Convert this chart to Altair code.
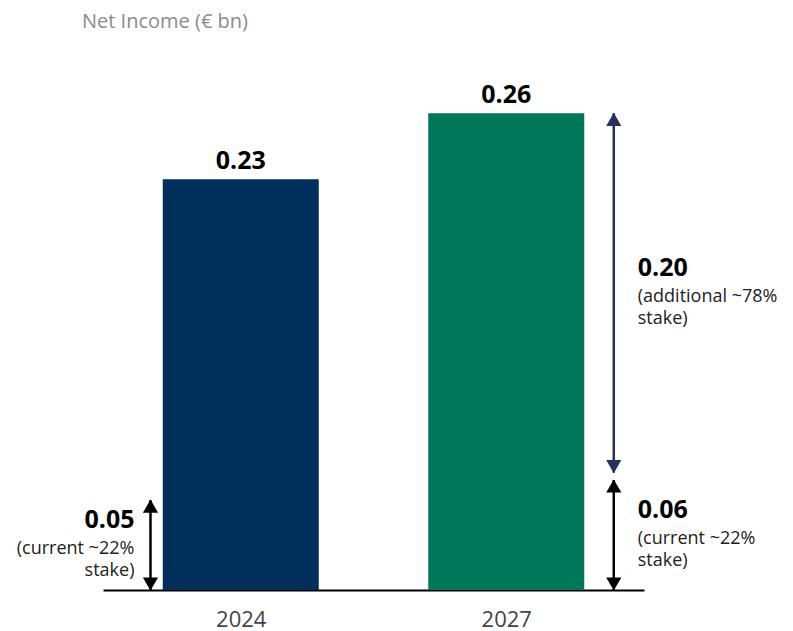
import altair as alt
import pandas as pd

# ---- data ----
years = ["2024", "2027"]
bar_pos = [0, 1]
bar_values = [0.224, 0.26]
bar_labels = ["0.23", "0.26"]
bar_colors = ["#002f5c", "#00765a"]

arrow_x = [-0.34, 1.405, 1.405]
arrow_low = [0.0, 0.0, 0.064]
arrow_high = [0.049, 0.06, 0.26]
arrow_colors = ["#000000", "#000000", "#27325a"]

ann_values = ["0.05", "0.06", "0.20"]
ann_desc = ["(current ~22%\nstake)", "(current ~22%\nstake)", "(additional ~78%\nstake)"]
ann_side = ["left", "right", "right"]

title_text = ["Net Income (€ bn)"]

FONT = "Open Sans"

bars_df = pd.DataFrame({"pos": bar_pos, "year": years, "value": bar_values,
                        "label": bar_labels, "color": bar_colors})
arr_df = pd.DataFrame({"x": arrow_x, "lo": arrow_low, "hi": arrow_high, "color": arrow_colors,
                       "mid": [(a + b) / 2 for a, b in zip(arrow_low, arrow_high)],
                       "val": ann_values, "desc": ann_desc, "side": ann_side})

label_expr = " : ".join(f"datum.value == {p} ? '{y}'" for p, y in zip(bar_pos, years)) + " : ''"

XMIN, XMAX = -0.5, 1.5
YMAX = 0.3
xscale = alt.Scale(domain=[XMIN, XMAX], nice=False, zero=False)
yscale = alt.Scale(domain=[0, YMAX], nice=False)

base_x = alt.X("pos:Q", scale=xscale,
               axis=alt.Axis(values=bar_pos, labelExpr=label_expr, title=None, grid=False,
                             ticks=False, domainColor="#000000", domainWidth=2,
                             labelFontSize=22, labelColor="#444444", labelFont=FONT,
                             labelPadding=19))

bars = alt.Chart(bars_df).mark_bar(size=156).encode(
    x=base_x,
    y=alt.Y("value:Q", scale=yscale, axis=None),
    color=alt.Color("color:N", scale=None),
)

bar_text = alt.Chart(bars_df).mark_text(font=FONT, fontSize=25, fontWeight="bold",
                                        color="#000000", baseline="bottom", dy=-5).encode(
    x=alt.X("pos:Q", scale=xscale),
    y=alt.Y("value:Q", scale=yscale),
    text="label:N",
)

rules = alt.Chart(arr_df).mark_rule(strokeWidth=2.5).encode(
    x=alt.X("x:Q", scale=xscale),
    y=alt.Y("lo:Q", scale=yscale),
    y2="hi:Q",
    color=alt.Color("color:N", scale=None),
)

heads_up = alt.Chart(arr_df).mark_point(shape="triangle-up", filled=True, size=230,
                                        opacity=1, yOffset=6).encode(
    x=alt.X("x:Q", scale=xscale),
    y=alt.Y("hi:Q", scale=yscale),
    color=alt.Color("color:N", scale=None),
)

heads_down = alt.Chart(arr_df).mark_point(shape="triangle-down", filled=True, size=230,
                                          opacity=1, yOffset=-6).encode(
    x=alt.X("x:Q", scale=xscale),
    y=alt.Y("lo:Q", scale=yscale),
    color=alt.Color("color:N", scale=None),
)

left_df = arr_df[arr_df.side == "left"]
right_df = arr_df[arr_df.side == "right"]

def ann(df, align, dx):
    v = alt.Chart(df).mark_text(font=FONT, fontSize=25, fontWeight="bold", color="#000000",
                                align=align, baseline="middle", dx=dx, dy=-25).encode(
        x=alt.X("x:Q", scale=xscale), y=alt.Y("mid:Q", scale=yscale), text="val:N")
    d = alt.Chart(df).mark_text(font=FONT, fontSize=18, color="#222222", align=align,
                                baseline="top", dx=dx, dy=-5, lineBreak="\n", lineHeight=22).encode(
        x=alt.X("x:Q", scale=xscale), y=alt.Y("mid:Q", scale=yscale), text="desc:N")
    return v + d

title_df = pd.DataFrame({"t": title_text, "x": [XMIN], "y": [YMAX]})
title = alt.Chart(title_df).mark_text(font=FONT, fontSize=20, color="#8c8c8c", align="left",
                                      baseline="middle", dx=-26, dy=-18).encode(
    x=alt.X("x:Q", scale=xscale), y=alt.Y("y:Q", scale=yscale), text="t:N")

chart = alt.layer(
    bars, bar_text, rules, heads_up, heads_down,
    ann(left_df, "right", -16), ann(right_df, "left", 24), title,
).properties(
    width=541, height=550,
    autosize=alt.AutoSizeParams(type="none"),
    padding={"left": 95, "top": 32, "right": 140, "bottom": 41},
).configure_view(stroke=None)

chart.save("out.html", embed_options={"renderer": "svg", "actions": False})
